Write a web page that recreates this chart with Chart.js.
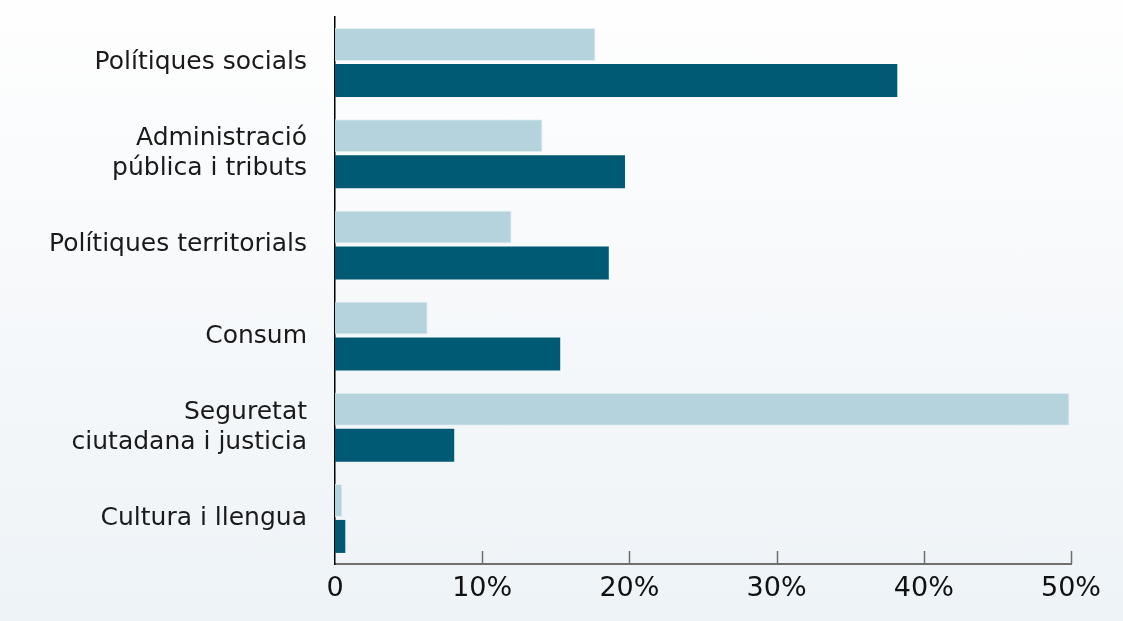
<!DOCTYPE html>
<html>
<head>
<meta charset="utf-8">
<script src="https://cdn.jsdelivr.net/npm/chart.js@4/dist/chart.umd.min.js"></script>
<style>
html,body{margin:0;padding:0;}
body{width:1123px;height:621px;background:linear-gradient(to bottom,#fefefe 0%,#eef3f7 100%);overflow:hidden;}
#wrap{position:relative;width:1123px;height:621px;}
</style>
</head>
<body>
<div id="wrap"><canvas id="c" width="1123" height="621"></canvas></div>
<script>
const categories = [
  'Polítiques socials',
  ['Administració', 'pública i tributs'],
  'Polítiques territorials',
  'Consum',
  ['Seguretat', 'ciutadana i justicia'],
  'Cultura i llengua'
];
const seriesLight = [17.7, 14.1, 12.0, 6.3, 49.9, 0.5];
const seriesDark = [38.2, 19.7, 18.6, 15.3, 8.1, 0.7];
const xTickLabels = ['0', '10%', '20%', '30%', '40%', '50%'];

const FONT = "'DejaVu Sans', sans-serif";

const innerTicks = {
  id: 'innerTicks',
  afterDatasetsDraw(chart) {
    const x = chart.scales.x, ctx = chart.ctx, bottom = chart.chartArea.bottom;
    ctx.save();
    ctx.strokeStyle = '#6f6f6f';
    ctx.lineWidth = 1.5;
    x.ticks.forEach(t => {
      if (t.value === 0) return;
      const px = Math.round(x.getPixelForValue(t.value)) + 0.5;
      ctx.beginPath();
      ctx.moveTo(px, bottom);
      ctx.lineTo(px, bottom - 13);
      ctx.stroke();
    });
    ctx.restore();
  }
};

new Chart(document.getElementById('c'), {
  type: 'bar',
  data: {
    labels: categories,
    datasets: [
      { data: seriesLight, backgroundColor: '#b5d3dc', borderColor: 'rgba(225,238,242,0.9)', borderWidth: 1, categoryPercentage: 0.79, barPercentage: 0.917 },
      { data: seriesDark, backgroundColor: '#005a73', borderWidth: 0, categoryPercentage: 0.79, barPercentage: 0.917 }
    ]
  },
  options: {
    indexAxis: 'y',
    responsive: false,
    animation: false,
    devicePixelRatio: 1,
    layout: { padding: { top: 17, right: 52, left: 0, bottom: 0 } },
    plugins: { legend: { display: false }, tooltip: { enabled: false } },
    scales: {
      x: {
        min: 0, max: 50,
        ticks: {
          stepSize: 10,
          color: '#111',
          font: { family: FONT, size: 27 },
          padding: 9,
          callback: (v, i) => xTickLabels[i]
        },
        grid: { display: false, drawTicks: false },
        border: { display: true, color: '#6f6f6f', width: 2 },
        afterFit: s => { s.height = 57; s.paddingLeft = 0; s.paddingRight = 0; }
      },
      y: {
        ticks: {
          color: '#1a1a1a',
          font: { family: FONT, size: 25, lineHeight: 1.2 },
          padding: 28
        },
        grid: { display: false, drawTicks: false },
        border: { display: true, color: '#000', width: 1.5 },
        afterFit: s => { s.width = 335; s.paddingTop = 0; s.paddingBottom = 0; }
      }
    }
  },
  plugins: [innerTicks]
});
</script>
</body>
</html>
